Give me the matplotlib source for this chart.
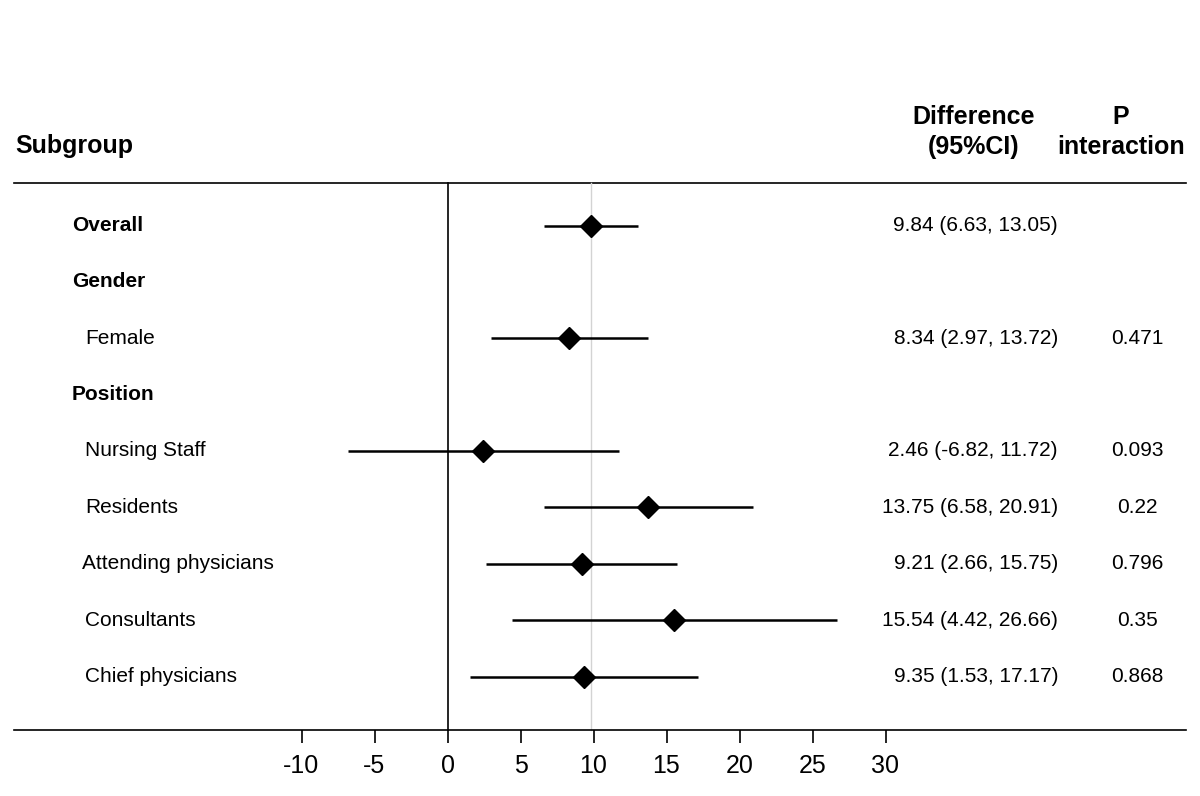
"""Forest plot of subgroup differences with 95% CI."""

import matplotlib
matplotlib.use("Agg")
import matplotlib.pyplot as plt
import numpy as np

plt.rcParams["font.family"] = ["Liberation Sans", "DejaVu Sans"]

labels = ["Overall", "Gender", "Female", "Position", "Nursing Staff",
          "Residents", "Attending physicians", "Consultants", "Chief physicians"]
is_header = [True, True, False, True, False, False, False, False, False]
estimate = [9.84, np.nan, 8.34, np.nan, 2.46, 13.75, 9.21, 15.54, 9.35]
ci_low = [6.63, np.nan, 2.97, np.nan, -6.82, 6.58, 2.66, 4.42, 1.53]
ci_high = [13.05, np.nan, 13.72, np.nan, 11.72, 20.91, 15.75, 26.66, 17.17]
p_interaction = ["", "", "0.471", "", "0.093", "0.22", "0.796", "0.35", "0.868"]
ticks = [-10, -5, 0, 5, 10, 15, 20, 25, 30]
overall_effect = 9.84

W, H = 1200, 796
fig = plt.figure(figsize=(W / 100, H / 100), dpi=100)
ax = fig.add_axes([0, 0, 1, 1])

# pixel -> data mapping: 0 at x=447.5 px, 14.6 px per unit; rows 56.375 px apart
x0_px, x_scale = 447.5, 14.6
y0_px, y_step = 225.5, 56.375
ax.set_xlim((0 - x0_px) / x_scale, (W - x0_px) / x_scale)
ax.set_ylim((H - y0_px) / y_step, (0 - y0_px) / y_step)


def xfrac(px):
    return px / W


def yrow(px):
    return (px - y0_px) / y_step


top_y, bot_y = yrow(183), yrow(730)

for s in ["top", "left", "right"]:
    ax.spines[s].set_visible(False)
ax.spines["bottom"].set_position(("data", bot_y))
ax.spines["bottom"].set_linewidth(1.2)
ax.spines["bottom"].set_bounds((14 - x0_px) / x_scale, (1186 - x0_px) / x_scale)
ax.set_yticks([])
ax.set_xticks(ticks)
ax.set_xticklabels([str(t) for t in ticks])
ax.tick_params(axis="x", length=9.5, width=1.2, pad=8, labelsize=18)

ax.axhline(top_y, xmin=xfrac(14), xmax=xfrac(1186), color="black", lw=1.2)
ax.plot([0, 0], [top_y, bot_y], color="black", lw=1.2)
ax.plot([overall_effect, overall_effect], [top_y, bot_y], color="#d3d3d3", lw=1)

rows = np.arange(len(labels))
for r in rows:
    if np.isnan(estimate[r]):
        continue
    ax.plot([ci_low[r], ci_high[r]], [r, r], color="black", lw=1.8,
            solid_capstyle="butt")
ax.plot(estimate, rows, "D", color="black", markersize=11.5, linestyle="none")

trans = ax.get_yaxis_transform()
for r in rows:
    x_lab = 72 if is_header[r] else 85
    if labels[r] == "Attending physicians":
        x_lab = 82
    ax.text(xfrac(x_lab), r, labels[r], transform=trans, ha="left", va="center",
            fontsize=15, fontweight="bold" if is_header[r] else "normal")
    if not np.isnan(estimate[r]):
        txt = f"{estimate[r]:.2f} ({ci_low[r]:.2f}, {ci_high[r]:.2f})"
        ax.text(xfrac(1058), r, txt, transform=trans, ha="right", va="center",
                fontsize=15)
    if p_interaction[r]:
        ax.text(xfrac(1137), r, p_interaction[r], transform=trans, ha="center",
                va="center", fontsize=15)

ax.text(xfrac(15), yrow(146), "Subgroup", transform=trans, ha="left",
        va="center", fontsize=18, fontweight="bold")
ax.text(xfrac(974), yrow(132), "Difference\n(95%CI)", transform=trans,
        ha="center", va="center", fontsize=18, fontweight="bold",
        linespacing=1.3)
ax.text(xfrac(1121), yrow(132), "P\ninteraction", transform=trans,
        ha="center", va="center", fontsize=18, fontweight="bold",
        linespacing=1.3)

fig.savefig("out.png", dpi=100)
